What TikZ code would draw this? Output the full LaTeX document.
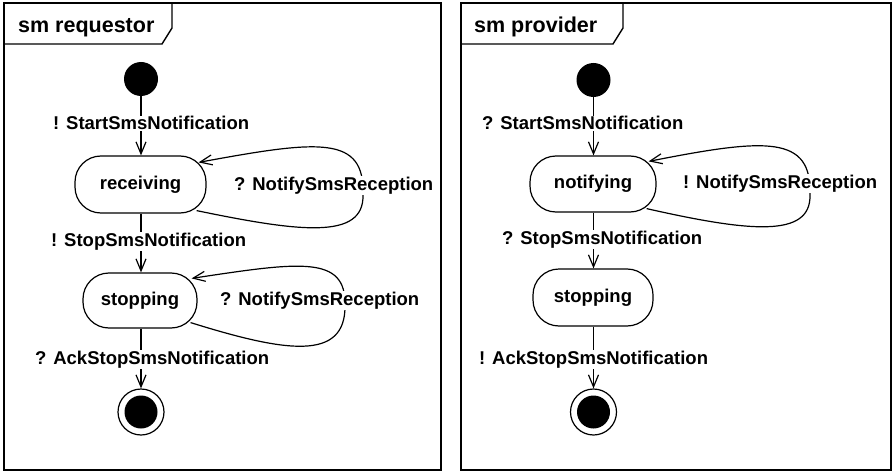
\documentclass[tikz,border=0pt]{standalone}
\usepackage{fontspec}
\setmainfont{Liberation Sans}
\usetikzlibrary{arrows.meta,calc}

\begin{document}
\begin{tikzpicture}[x=1pt,y=-1pt,
  every node/.style={font=\bfseries\fontsize{18.5}{20}\selectfont},
  frame/.style={draw,line width=1.4pt},
  title/.style={anchor=base west,inner sep=0pt,font=\bfseries\fontsize{21.5}{24}\selectfont},
  state/.style={draw,line width=1.2pt,rounded corners=26pt,inner sep=0pt},
  initial/.style={circle,fill=black,minimum size=34pt,inner sep=0pt},
  final/.style={circle,draw,line width=1.2pt,minimum size=46pt,inner sep=0pt,
    path picture={\fill (path picture bounding box.center) circle (16.5pt);}},
  trans/.style={line width=1.2pt,-{Straight Barb[length=12pt,width=10pt,line width=1.2pt]}},
  lbl/.style={anchor=base west,fill=white,inner sep=1pt},
]
\useasboundingbox (0,0) rectangle (893,473);

% ---------------- sm requestor ----------------
\draw[frame] (4,3) rectangle (441,470);
\draw[frame] (4,44) -- (162,44) -- (172,28) -- (172,3);
\node[title] (treq) at (18,33) {sm requestor};

\node[initial] (ri) at (141,79) {};
\node[state,minimum width=131pt,minimum height=57pt] (rcv) at (140.5,184.5) {receiving};
\node[state,minimum width=114pt,minimum height=55pt] (rstp) at (140,300.5) {stopping};
\node[final] (rf) at (141,412) {};

\draw[trans] (ri) -- (rcv.north -| ri);
\draw[trans] (rcv.south -| ri) -- (rstp.north -| ri);
\draw[trans] (rstp.south -| ri) -- (rf);

\draw[trans] ($(rcv.south east)+(-10,-3)$)
  .. controls (300,232) and (364,240) .. (363,195)
  .. controls (365,135) and (320,140) .. ($(rcv.north east)+(-8,7)$);
\draw[trans] ($(rstp.south east)+(-7,-6)$)
  .. controls (285,352) and (346,362) .. (345,305)
  .. controls (346,255) and (300,262) .. ($(rstp.north east)+(-6,6)$);

\node[lbl] (r1) at (52,130) {! StartSmsNotification};
\node[lbl] (r2) at (50,246) {! StopSmsNotification};
\node[lbl] (r3) at (34,364) {? AckStopSmsNotification};
\node[lbl] (r4) at (233,190) {? NotifySmsReception};
\node[lbl] (r5) at (219,305.5) {? NotifySmsReception};

% ---------------- sm provider ----------------
\draw[frame] (461,3) rectangle (891,470);
\draw[frame] (461,44) -- (613,44) -- (623,28) -- (623,3);
\node[title] (tprov) at (474,33) {sm provider};

\node[initial] (pi) at (593.5,80) {};
\node[state,minimum width=126pt,minimum height=56pt] (ntf) at (593,184) {notifying};
\node[state,minimum width=120pt,minimum height=57pt] (pstp) at (593,297.5) {stopping};
\node[final] (pf) at (593.5,412) {};

\draw[trans] (pi) -- (ntf.north -| pi);
\draw[trans] (ntf.south -| pi) -- (pstp.north -| pi);
\draw[trans] (pstp.south -| pi) -- (pf);

\draw[trans] ($(ntf.south east)+(-10,-4)$)
  .. controls (750,232) and (811,238) .. (810,195)
  .. controls (812,135) and (767,138) .. ($(ntf.north east)+(-8,6)$);

\node[lbl] (p1) at (481,130) {? StartSmsNotification};
\node[lbl] (p2) at (682,188) {! NotifySmsReception};
\node[lbl] (p3) at (501,244) {? StopSmsNotification};
\node[lbl] (p4) at (478,364) {! AckStopSmsNotification};
\end{tikzpicture}
\end{document}
